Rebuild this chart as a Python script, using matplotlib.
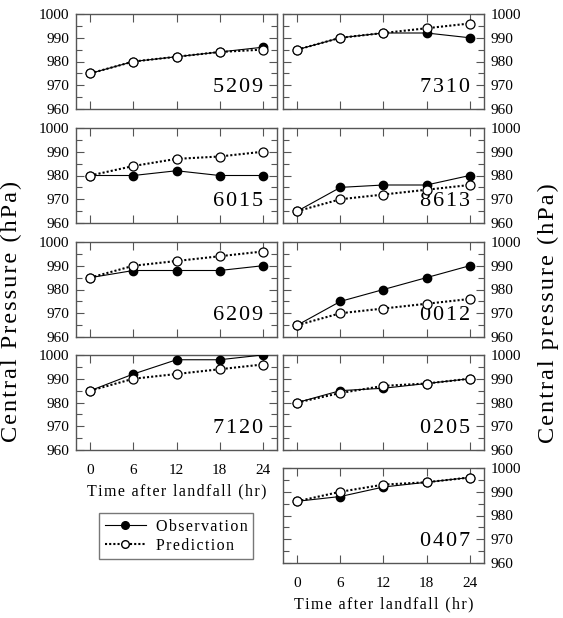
import matplotlib
matplotlib.use("Agg")
import matplotlib.pyplot as plt
from matplotlib.ticker import MultipleLocator
from matplotlib.lines import Line2D

plt.rcParams['font.family'] = ['Liberation Serif', 'DejaVu Serif']

hours = [0, 6, 12, 18, 24]
yticks = [960, 970, 980, 990, 1000]

names_left = ["5209", "6015", "6209", "7120"]
names_right = ["7310", "8613", "0012", "0205", "0407"]

obs = {
    "5209": [975, 980, 982, 984, 986],
    "6015": [980, 980, 982, 980, 980],
    "6209": [985, 988, 988, 988, 990],
    "7120": [985, 992, 998, 998, 1000],
    "7310": [985, 990, 992, 992, 990],
    "8613": [965, 975, 976, 976, 980],
    "0012": [965, 975, 980, 985, 990],
    "0205": [980, 985, 986, 988, 990],
    "0407": [986, 988, 992, 994, 996],
}
pred = {
    "5209": [975, 980, 982, 984, 985],
    "6015": [980, 984, 987, 988, 990],
    "6209": [985, 990, 992, 994, 996],
    "7120": [985, 990, 992, 994, 996],
    "7310": [985, 990, 992, 994, 996],
    "8613": [965, 970, 972, 974, 976],
    "0012": [965, 970, 972, 974, 976],
    "0205": [980, 984, 987, 988, 990],
    "0407": [986, 990, 993, 994, 996],
}

xlabel_text = "Time after landfall (hr)"
ylabel_left = "Central Pressure (hPa)"
ylabel_right = "Central pressure (hPa)"
legend_labels = ["Observation", "Prediction"]


def spaced(s, sp='\u200a'):
    return sp.join(s)


W, H = 563, 618
fig = plt.figure(figsize=(W / 100, H / 100), dpi=100)

tops = [14, 128, 242, 355, 468]
ph = 95
lx0, lx1 = 76, 277
rx0, rx1 = 283, 484
spine_col = '#555555'


def make_ax(x0, x1, top, name, side, show_x):
    ax = fig.add_axes([x0 / W, 1 - (top + ph) / H, (x1 - x0) / W, ph / H])
    ax.plot(hours, obs[name], color='black', lw=0.8, marker='o', ms=6,
            mfc='black', mec='black', zorder=3)
    ax.plot(hours, pred[name], color='black', lw=1.5, ls=(0, (1, 1)),
            marker='o', ms=6.5, mfc='white', mec='black', mew=0.9, zorder=4)
    ax.set_xlim(-2, 26)
    ax.set_ylim(960, 1000)
    ax.set_xticks(hours)
    ax.set_yticks(yticks)
    ax.yaxis.set_minor_locator(MultipleLocator(5))
    ax.tick_params(axis='both', which='major', direction='in', length=6,
                   width=0.8, color=spine_col, top=True, right=True,
                   labelsize=11, pad=5)
    ax.tick_params(axis='y', which='minor', direction='in', length=4,
                   width=0.8, color=spine_col, left=True, right=True)
    if side == 'left':
        ax.tick_params(axis='y', labelleft=True, labelright=False)
    else:
        ax.tick_params(axis='y', labelleft=False, labelright=True)
    ax.tick_params(axis='x', labelbottom=show_x, pad=10)
    for s in ax.spines.values():
        s.set_color(spine_col)
        s.set_linewidth(1.0)
    ax.text(0.93, 0.13, spaced(name), transform=ax.transAxes, ha='right',
            va='bottom', fontsize=16)
    if show_x:
        ax.set_xlabel(spaced(xlabel_text), fontsize=11.5, labelpad=5)
    return ax


for i, n in enumerate(names_left):
    make_ax(lx0, lx1, tops[i], n, 'left', i == len(names_left) - 1)
for i, n in enumerate(names_right):
    make_ax(rx0, rx1, tops[i], n, 'right', i == len(names_right) - 1)

fig.text(11 / W, 1 - 311 / H, spaced(ylabel_left), rotation=90,
         ha='center', va='center', fontsize=17.5)
fig.text(548 / W, 1 - 313 / H, spaced(ylabel_right), rotation=90,
         ha='center', va='center', fontsize=17.5)

handles = [
    Line2D([], [], color='black', lw=0.8, marker='o', ms=5.5, mfc='black', mec='black'),
    Line2D([], [], color='black', lw=1.5, ls=(0, (1, 1)), marker='o', ms=5.5,
           mfc='white', mec='black'),
]
leg = fig.legend(handles, [spaced(t) for t in legend_labels],
                 loc='upper left', bbox_to_anchor=(99 / W, 1 - 513 / H),
                 frameon=True, fancybox=False, edgecolor='#555555',
                 fontsize=11.5, handlelength=2.6, borderpad=0.35,
                 labelspacing=0.2, handletextpad=0.6, borderaxespad=0)
leg.get_frame().set_linewidth(1.0)

fig.savefig('out.png', dpi=100)
